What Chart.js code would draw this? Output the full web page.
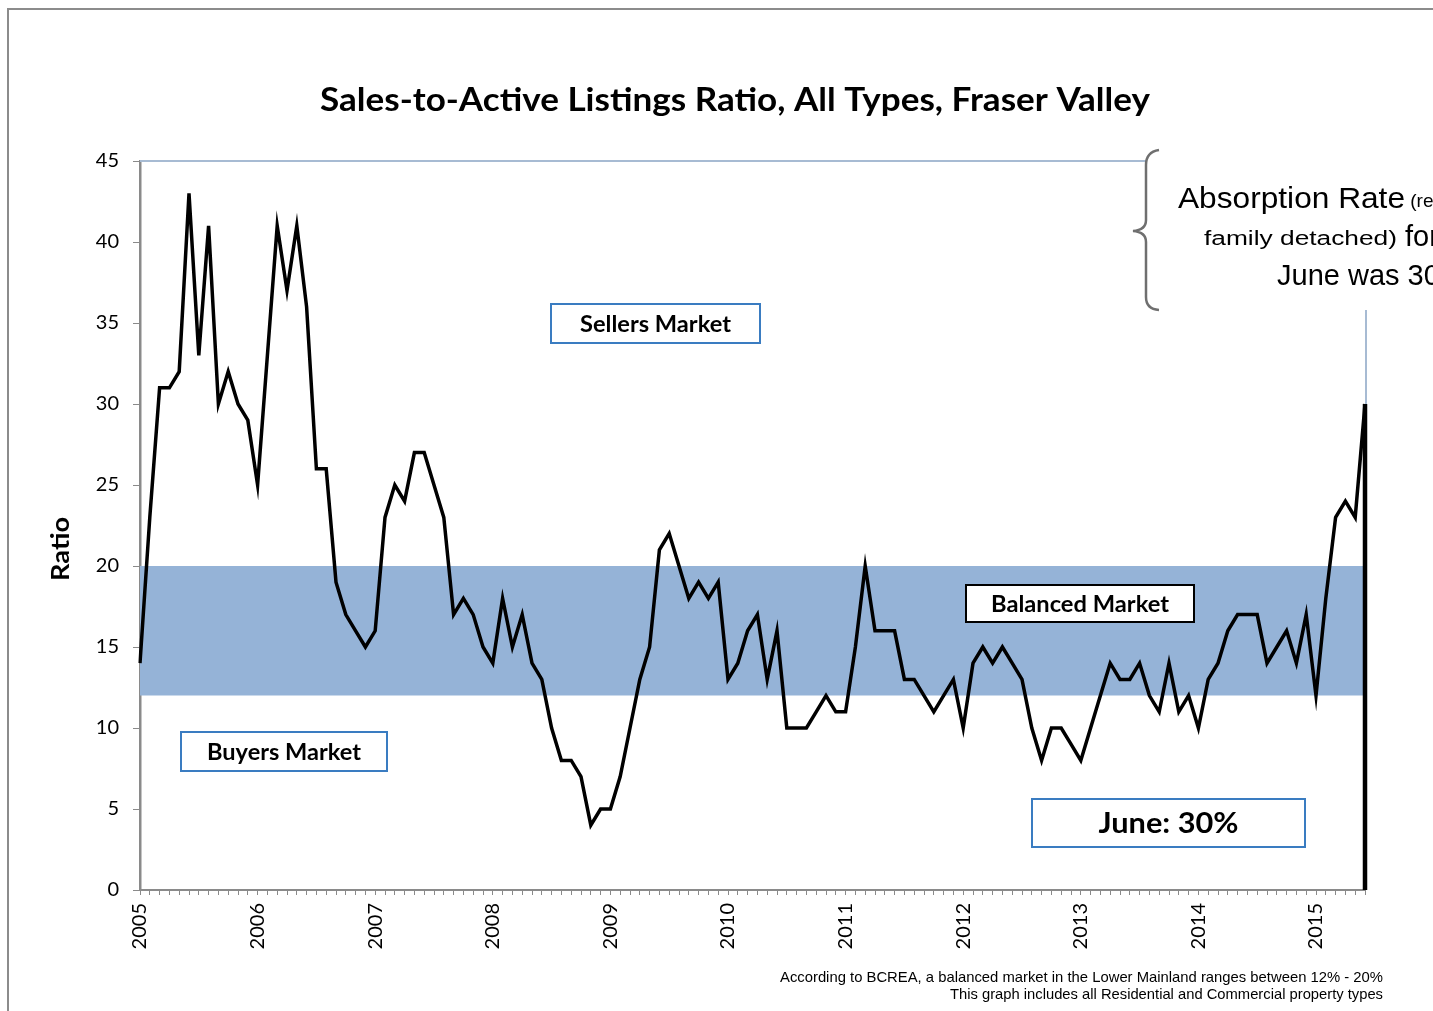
<!DOCTYPE html>
<html><head><meta charset="utf-8">
<script src="https://cdn.jsdelivr.net/npm/chart.js@4.4.1/dist/chart.umd.min.js"></script>
<style>html,body{margin:0;padding:0;background:#fff;overflow:hidden}canvas{display:block}</style>
</head><body>
<canvas id="c" width="1433" height="1011"></canvas>
<script>
// ---- data ----
const years = [2005, 2006, 2007, 2008, 2009, 2010, 2011, 2012, 2013, 2014, 2015];
const ratio2005 = [14, 23, 31, 31, 32, 43, 33, 41, 30, 32, 30, 29];
const ratio2006 = [25, 33, 41, 37, 41, 36, 26, 26, 19, 17, 16, 15];
const ratio2007 = [16, 23, 25, 24, 27, 27, 25, 23, 17, 18, 17, 15];
const ratio2008 = [14, 18, 15, 17, 14, 13, 10, 8, 8, 7, 4, 5];
const ratio2009 = [5, 7, 10, 13, 15, 21, 22, 20, 18, 19, 18, 19];
const ratio2010 = [13, 14, 16, 17, 13, 16, 10, 10, 10, 11, 12, 11];
const ratio2011 = [11, 15, 20, 16, 16, 16, 13, 13, 12, 11, 12, 13];
const ratio2012 = [10, 14, 15, 14, 15, 14, 13, 10, 8, 10, 10, 9];
const ratio2013 = [8, 10, 12, 14, 13, 13, 14, 12, 11, 14, 11, 12];
const ratio2014 = [10, 13, 14, 16, 17, 17, 17, 14, 15, 16, 14, 17];
const ratio2015 = [12, 18, 23, 24, 23, 30];
const yTickMin = 0, yTickMax = 45, yTickStep = 5;
const balancedLow = 12, balancedHigh = 20;

const ratioValues = [].concat(ratio2005, ratio2006, ratio2007, ratio2008, ratio2009,
  ratio2010, ratio2011, ratio2012, ratio2013, ratio2014, ratio2015);
const categories = [];
years.forEach(y => { for (let m = 1; m <= 12; m++) categories.push(y + '-' + m); });
categories.length = ratioValues.length;
const bandTop = ratioValues.map(() => balancedHigh);

// ---- helpers ----
function fitText(ctx, text, x, y, size, weight, family, targetW, align) {
  ctx.save();
  ctx.font = weight + ' ' + size + 'px ' + family;
  const w = ctx.measureText(text).width;
  const sx = targetW ? targetW / w : 1;
  ctx.textBaseline = 'middle';
  ctx.textAlign = 'left';
  let left = x;
  if (align === 'center') left = x - w * sx / 2;
  else if (align === 'right') left = x - w * sx;
  ctx.translate(left, y);
  ctx.scale(sx, 1);
  ctx.fillText(text, 0, 0);
  ctx.restore();
  return w * sx;
}
function box(ctx, x1, y1, x2, y2, stroke, text, size, textW) {
  ctx.save();
  ctx.fillStyle = '#fff';
  ctx.fillRect(x1, y1, x2 - x1, y2 - y1);
  ctx.strokeStyle = stroke;
  ctx.lineWidth = 2;
  ctx.strokeRect(x1, y1, x2 - x1, y2 - y1);
  ctx.fillStyle = '#000';
  fitText(ctx, text, (x1 + x2) / 2, (y1 + y2) / 2 + 1, size, 'bold', 'Lato', textW, 'center');
  ctx.restore();
}

const decor = {
  id: 'decor',
  beforeDatasetsDraw(chart) {
    const ctx = chart.ctx, a = chart.chartArea;
    ctx.save();
    ctx.strokeStyle = '#a7bbd3';
    ctx.lineWidth = 2;
    ctx.beginPath();
    ctx.moveTo(a.left, a.top); ctx.lineTo(1147, a.top);
    ctx.moveTo(a.right + 1, 310); ctx.lineTo(a.right + 1, a.bottom);
    ctx.stroke();
    ctx.restore();
  },
  afterDatasetsDraw(chart) {
    const ctx = chart.ctx;
    // vertical drop of the series to the axis at the last month
    const meta = chart.getDatasetMeta(0);
    const last = meta.data[meta.data.length - 1];
    const y0 = chart.scales.y.getPixelForValue(0);
    ctx.save();
    ctx.strokeStyle = '#000';
    ctx.lineWidth = 4.5;
    ctx.beginPath();
    ctx.moveTo(last.x, last.y); ctx.lineTo(last.x, y0);
    ctx.stroke();
    ctx.restore();
    // annotation boxes
    box(ctx, 551, 304, 760, 343, '#3a7cc1', 'Sellers Market', 22, 151);
    box(ctx, 966, 585, 1194, 622, '#000', 'Balanced Market', 22, 178);
    box(ctx, 181, 732, 387, 771, '#3a7cc1', 'Buyers Market', 22, 154);
    box(ctx, 1032, 799, 1305, 847, '#3a7cc1', 'June: 30%', 29, 140);
  },
  afterDraw(chart) {
    const ctx = chart.ctx;
    ctx.save();
    ctx.fillStyle = '#000';
    // title
    fitText(ctx, 'Sales-to-Active Listings Ratio, All Types, Fraser Valley', 735, 101, 32, 'bold', 'Lato', 830, 'center');
    // y title
    ctx.save();
    ctx.translate(61, 549);
    ctx.rotate(-Math.PI / 2);
    fitText(ctx, 'Ratio', 0, 0, 25, 'bold', 'Lato', 64, 'center');
    ctx.restore();
    // footnotes
    fitText(ctx, 'According to BCREA, a balanced market in the Lower Mainland ranges between 12% - 20%', 1383, 978, 14.5, 'normal', '"Liberation Sans"', 603, 'right');
    fitText(ctx, 'This graph includes all Residential and Commercial property types', 1383, 995, 14.5, 'normal', '"Liberation Sans"', 433, 'right');
    // absorption rate note
    let w = fitText(ctx, 'Absorption Rate', 1178, 200, 29, 'normal', '"Liberation Sans"', 227, 'left');
    fitText(ctx, ' (residential single', 1178 + w, 202, 19, 'normal', '"Liberation Sans"', 0, 'left');
    w = fitText(ctx, 'family detached)', 1204, 239, 20, 'normal', '"Liberation Sans"', 193, 'left');
    fitText(ctx, ' for', 1204 + w, 238, 29, 'normal', '"Liberation Sans"', 0, 'left');
    fitText(ctx, 'June was 30%', 1277, 277, 29, 'normal', '"Liberation Sans"', 0, 'left');
    // brace
    ctx.strokeStyle = '#6f6f6f';
    ctx.lineWidth = 2.5;
    ctx.beginPath();
    ctx.moveTo(1159, 150);
    ctx.quadraticCurveTo(1146, 152, 1146, 165);
    ctx.lineTo(1146, 220);
    ctx.quadraticCurveTo(1146, 230, 1133, 231);
    ctx.quadraticCurveTo(1146, 232, 1146, 242);
    ctx.lineTo(1146, 297);
    ctx.quadraticCurveTo(1146, 309, 1159, 310);
    ctx.stroke();
    // outer frame
    ctx.strokeStyle = '#8c8c8c';
    ctx.lineWidth = 2;
    ctx.beginPath();
    ctx.moveTo(1433, 9); ctx.lineTo(8, 9); ctx.lineTo(8, 1011);
    ctx.stroke();
    ctx.restore();
  }
};

new Chart(document.getElementById('c'), {
  type: 'line',
  data: {
    labels: categories,
    datasets: [
      {
        label: 'Ratio',
        data: ratioValues,
        borderColor: '#000',
        borderWidth: 3.5,
        pointRadius: 0,
        tension: 0,
        fill: false
      },
      {
        label: 'Balanced',
        data: bandTop,
        borderWidth: 0,
        borderColor: 'rgba(0,0,0,0)',
        backgroundColor: '#95b3d7',
        pointRadius: 0,
        fill: { value: balancedLow }
      }
    ]
  },
  options: {
    responsive: false,
    devicePixelRatio: 1,
    animation: false,
    layout: { padding: { left: 40, right: 68, top: 161, bottom: 41 } },
    plugins: { legend: { display: false }, tooltip: { enabled: false }, title: { display: false } },
    scales: {
      x: {
        type: 'category',
        offset: false,
        afterFit(s) { s.height = 80; },
        grid: { drawOnChartArea: false, drawTicks: true, tickLength: 5, color: '#8a8a8a', lineWidth: 1 },
        border: { color: '#8a8a8a', width: 2 },
        ticks: {
          autoSkip: false, minRotation: 90, maxRotation: 90, padding: 8,
          color: '#000', font: { family: 'Lato', size: 20 },
          callback(v, i) { const c = categories[i]; return c.endsWith('-1') ? c.split('-')[0] : ''; }
        }
      },
      y: {
        min: yTickMin, max: yTickMax,
        afterFit(s) { s.width = 100; },
        grid: { drawOnChartArea: false, drawTicks: true, tickLength: 7, color: '#8a8a8a' },
        border: { color: '#8a8a8a', width: 2.5 },
        ticks: { stepSize: yTickStep, padding: 14, color: '#000', font: { family: 'Lato', size: 20 } }
      }
    }
  },
  plugins: [decor]
});
</script>
</body></html>
